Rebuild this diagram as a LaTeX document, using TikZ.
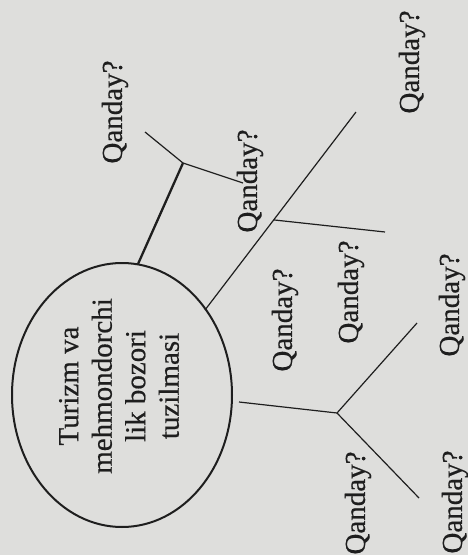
\documentclass[tikz,border=0pt]{standalone}
\usepackage{fontspec}
\setmainfont{Liberation Serif}
\newfontfamily\inkfont{Liberation Serif}[FakeBold=0.5]
\usetikzlibrary{shapes.geometric,calc}
\definecolor{paper}{RGB}{222,222,220}
\definecolor{ink}{RGB}{30,30,30}
\begin{document}
\begin{tikzpicture}[x=1pt,y=-1pt]
\tikzset{
  lbl/.style={rotate=90, font=\inkfont\fontsize{29}{34}\selectfont, inner sep=0pt, text=ink},
  branch/.style={line width=1.2pt, draw=ink},
  trunk/.style={line width=2.3pt, draw=ink},
  hubstyle/.style={draw=ink, line width=2pt, ellipse, rotate=90, inner sep=0pt,
    minimum width=264pt, minimum height=220pt},
  hubtextstyle/.style={rotate=90, align=center, text=ink, inner sep=0pt,
    font=\inkfont\fontsize{29}{33.5}\selectfont},
}
\fill[paper] (0,0) rectangle (468,555);
\useasboundingbox (0,0) rectangle (468,555);

\node[hubstyle] (hub) at (122,395) {};
\node[hubtextstyle] (hubtext) at (119,386) {Turizm va\\mehmondorchi\\lik bozori\\tuzilmasi};

% coordinates
\coordinate (e1) at (138,264);
\coordinate (ja) at (183,163);
\coordinate (a1) at (145,132);
\coordinate (a2) at (243,183);
\coordinate (e2) at (205,310);
\coordinate (t2) at (356,112);
\coordinate (jb) at ($(e2)!0.455!(t2)$);
\coordinate (b1) at (385,232);
\coordinate (e3) at (239,402);
\coordinate (jc) at (337,413);
\coordinate (c1) at (417,323);
\coordinate (c2) at (419,498);

\draw[trunk] (e1) -- (ja);
\draw[branch] (ja) -- (a1);
\draw[branch] (ja) -- (a2);
\draw[branch] (e2) -- (t2);
\draw[branch] (jb) -- (b1);
\draw[branch] (e3) -- (jc);
\draw[branch] (jc) -- (c1);
\draw[branch] (jc) -- (c2);

\node[lbl] (q1) at (115,112) {Qanday?};
\node[lbl] (q2) at (250,181) {Qanday?};
\node[lbl] (q3) at (412,62) {Qanday?};
\node[lbl] (q4) at (285,320) {Qanday?};
\node[lbl] (q5) at (351,292) {Qanday?};
\node[lbl] (q6) at (452,305) {Qanday?};
\node[lbl] (q7) at (358,503) {Qanday?};
\node[lbl] (q8) at (455,502) {Qanday?};
\end{tikzpicture}
\end{document}
